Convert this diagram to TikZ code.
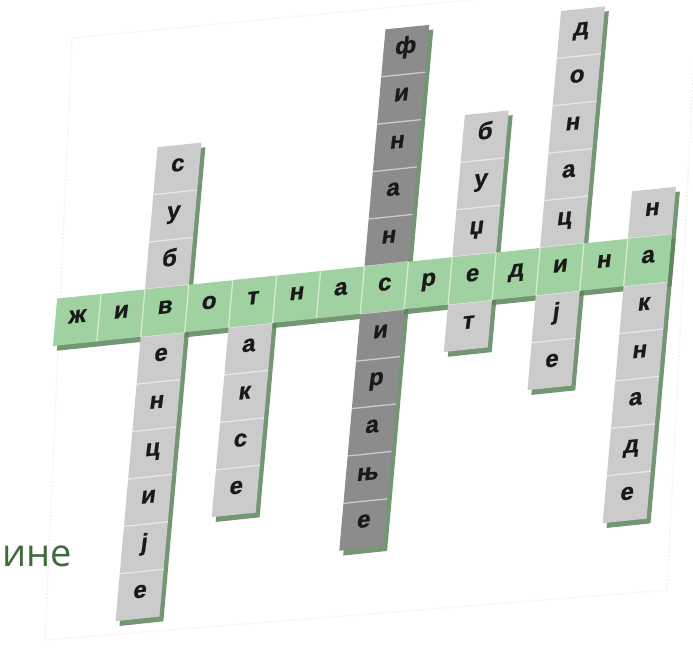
\documentclass[tikz,border=0pt]{standalone}
\usepackage{fontspec}
\setmainfont{Liberation Sans}
\newfontfamily\letterfont{Liberation Sans Bold}[FakeBold=0.9]
\newfontfamily\captionfont{Open Sans}
\definecolor{stripgreen}{HTML}{A0D1A0}
\definecolor{lightcell}{HTML}{CBCBCB}
\definecolor{darkcell}{HTML}{8C8C8C}
\definecolor{shadowgreen}{HTML}{5A845A}
\definecolor{captiongreen}{HTML}{3E6B39}
\definecolor{paperline}{HTML}{EEEEEE}
\tikzset{
  letter/.style={font=\letterfont\fontsize{24}{24}\selectfont, text=black!90, inner sep=0pt,
    text height=1ex, text depth=0pt, anchor=center, cm={1,0.105,0.13,1,(0,0)}},
  shadowfill/.style={fill=shadowgreen, opacity=0.85},
  sepline/.style={draw=white, opacity=0.55, line width=1.3pt},
}
\newcommand\wordshadow[3]{%
  \path[shadowfill] (#1-0.4,#2-0.61) -- (#1+0.6,#2-0.61) -- (#1+0.6,#3+0.39) -- (#1-0.4,#3+0.39) -- cycle;}
\newcommand\wordcol[4]{%
  \path[fill=#4] (#1-0.5,#2-0.5) -- (#1+0.5,#2-0.5) -- (#1+0.5,#3+0.5) -- (#1-0.5,#3+0.5) -- cycle;
  \foreach \r in {#2,...,#3}{\ifnum\r<#3\relax\path[sepline] (#1-0.5,\r+0.5) -- (#1+0.5,\r+0.5);\fi}}
\begin{document}
\begin{tikzpicture}[x=1pt,y=1pt]
\useasboundingbox (0,0) rectangle (693,-650);
\clip (0,0) rectangle (693,-650);
% faint paper behind the puzzle
\draw[paperline, dotted, line width=1.4pt] (72,-38) -- (698,22) -- (667,-590) -- (45,-640) -- cycle;
% caption fragment
\node[font=\captionfont\fontsize{38}{38}\selectfont, text=captiongreen, anchor=base west, inner sep=0pt] (caption) at (2,-566) {ине};
\begin{scope}[cm={43.9,4.6,4.2,47.4,(77,-320)}]
  % shadows
  \wordshadow{2}{-6}{3}
  \wordshadow{4}{-4}{0}
  \wordshadow{7}{-5}{5}
  \wordshadow{9}{-1}{3}
  \wordshadow{11}{-2}{5}
  \wordshadow{13}{-5}{1}
  \path[shadowfill] (-0.4,-0.61) -- (13.6,-0.61) -- (13.6,0.39) -- (-0.4,0.39) -- cycle;
  % vertical words
  \wordcol{2}{-6}{3}{lightcell}
  \wordcol{4}{-4}{0}{lightcell}
  \wordcol{7}{-5}{5}{darkcell}
  \wordcol{9}{-1}{3}{lightcell}
  \wordcol{11}{-2}{5}{lightcell}
  \wordcol{13}{-5}{1}{lightcell}
  % horizontal word
  \path[fill=stripgreen] (-0.5,-0.5) -- (13.5,-0.5) -- (13.5,0.5) -- (-0.5,0.5) -- cycle;
  \foreach \i in {0,...,12}{\path[sepline] (\i+0.5,-0.5) -- (\i+0.5,0.5);}
  % letters
  \foreach \ch [count=\k from 0] in {ж,и,в,о,т,н,а,с,р,е,д,и,н,а}
    {\node[letter] (h\k) at (\k,0) {\ch};}
  \foreach \ch [count=\k from 1] in {б,у,с}{\node[letter] (a\k) at (2,\k) {\ch};}
  \foreach \ch [count=\k from 1] in {е,н,ц,и,ј,е}{\node[letter] (b\k) at (2,-\k) {\ch};}
  \foreach \ch [count=\k from 1] in {а,к,с,е}{\node[letter] (c\k) at (4,-\k) {\ch};}
  \foreach \ch [count=\k from 1] in {н,а,н,и,ф}{\node[letter] (d\k) at (7,\k) {\ch};}
  \foreach \ch [count=\k from 1] in {и,р,а,њ,е}{\node[letter] (e\k) at (7,-\k) {\ch};}
  \foreach \ch [count=\k from 1] in {џ,у,б}{\node[letter] (f\k) at (9,\k) {\ch};}
  \node[letter] (g1) at (9,-1) {т};
  \foreach \ch [count=\k from 1] in {ц,а,н,о,д}{\node[letter] (m\k) at (11,\k) {\ch};}
  \foreach \ch [count=\k from 1] in {ј,е}{\node[letter] (n\k) at (11,-\k) {\ch};}
  \node[letter] (p1) at (13,1) {н};
  \foreach \ch [count=\k from 1] in {к,н,а,д,е}{\node[letter] (q\k) at (13,-\k) {\ch};}
\end{scope}
\end{tikzpicture}
\end{document}
